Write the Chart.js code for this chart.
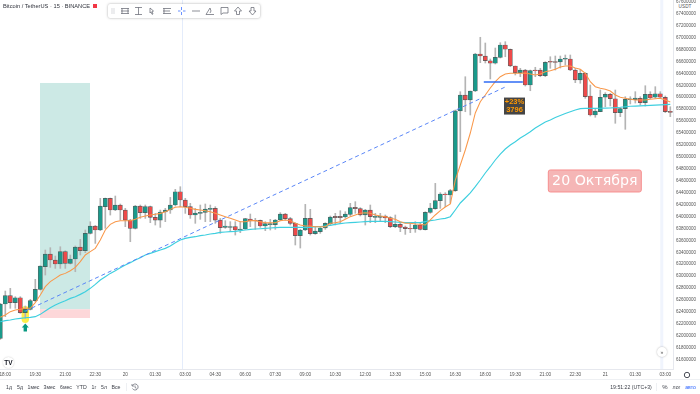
<!DOCTYPE html>
<html>
<head>
<meta charset="utf-8">
<script src="https://cdn.jsdelivr.net/npm/chart.js@4/dist/chart.umd.min.js"></script>
<style>
html, body { margin: 0; padding: 0; background: #fff; }
#page { position: relative; width: 700px; height: 394px; overflow: hidden; font-family: "Liberation Sans", Arial, sans-serif; color: #3c3f48; filter: blur(.25px); }
canvas { position: absolute; left: 0; top: 0; }
.txt { position: absolute; font-size: 5.2px; line-height: 7px; white-space: nowrap; transform: translateX(-50%); }
.rule { position: absolute; background: #e6e8ee; }
#toolbar { position: absolute; left: 108px; top: 4px; width: 152px; height: 14px; background: #fff; border-radius: 2px; box-shadow: 0 0 2.5px rgba(0,0,0,.35); }
.round { position: absolute; background: #fff; border-radius: 50%; box-shadow: 0 0 2px rgba(0,0,0,.3); text-align: center; }
</style>
</head>
<body>
<div id="page">
  <canvas id="chart" width="700" height="394"></canvas>

  <div class="txt" style="left:3px;top:3px;transform:none;font-size:5.7px;color:#30333c">Bitcoin / TetherUS · 15 · BINANCE</div>
  <div style="position:absolute;left:93px;top:4px;width:4px;height:4px;background:#f23645"></div>

  <div id="toolbar">
    <svg width="152" height="14" viewBox="0 0 152 14" fill="none" stroke="#5d606b" stroke-width=".7">
      <path d="M4 4v6M6 4v6" stroke="#c8cad0"/>
      <path d="M13 4.5h8M13 9.5h8M14 4.5v5M20 4.5v5M13 7h8"/>
      <path d="M27 3.5h7M27 10.5h7M30.5 3.5v7"/>
      <path d="M42 4l3.5 3-1.5.5 1 2.5-1 .3-1-2.4-1 1z"/>
      <path d="M55 4.5h8M55 9.5h8M55 7h7M56 4.5v5"/>
      <path d="M73.5 3v3M73.5 8v3M70 7h2.500M75 7h2.500" stroke="#2962ff"/>
      <path d="M84 7h8"/>
      <path d="M98 10.500l4-6.500 1 3-1 2M98 10.500h8"/>
      <path d="M113 3.500h7v5.500h-5l-2 1.500z"/>
      <path d="M130 3l3.500 4-2 0v3.500h-3v-3.500h-2z"/>
      <path d="M144.500 11l3.500-4h-2v-3.500h-3v3.500h-2z"/>
    </svg>
  </div>

  <div class="txt" style="left:685px;top:3px;font-size:4.7px;background:#fff;padding:0 1px;color:#555">USDT</div>

  <div class="round" style="left:3px;top:356.500px;width:11px;height:11px;box-shadow:0 0 1.5px rgba(0,0,0,.25);font:bold 6.5px/11px 'Liberation Sans';color:#131722">TV</div>
  <div class="round" style="left:657px;top:347px;width:10px;height:10px;font:5px/10px 'Liberation Sans';color:#555">»</div>

  <div class="rule" style="left:0;top:379px;width:700px;height:1px;background:#eef0f3"></div>
  <div class="rule" style="left:126px;top:383px;width:1px;height:8px;background:#eef0f3"></div>
  <div class="rule" style="left:656px;top:383px;width:1px;height:8px;background:#eef0f3"></div>

  <div class="txt" style="left:9px;top:383.500px">1д</div>
  <div class="txt" style="left:20px;top:383.500px">5д</div>
  <div class="txt" style="left:33.500px;top:383.500px">1мес</div>
  <div class="txt" style="left:49.500px;top:383.500px">3мес</div>
  <div class="txt" style="left:66px;top:383.500px">6мес</div>
  <div class="txt" style="left:81.500px;top:383.500px">YTD</div>
  <div class="txt" style="left:94px;top:383.500px">1г</div>
  <div class="txt" style="left:104px;top:383.500px">5л</div>
  <div class="txt" style="left:116px;top:383.500px">Все</div>
  <svg style="position:absolute;left:131px;top:383px" width="8" height="8" viewBox="0 0 8 8" fill="none" stroke="#5d606b" stroke-width=".7"><path d="M1.500 2.500a3 3 0 1 1 0 3M1 1v2h2M4 2.500v2l1.500 .8"/></svg>

  <div class="txt" style="left:631px;top:383.500px">19:51:22 (UTC+3)</div>
  <div class="txt" style="left:665px;top:383.500px;font-size:6px">%</div>
  <div class="txt" style="left:676.500px;top:383.500px">лог</div>
  <div class="txt" style="left:690.500px;top:383.500px;color:#2962ff">авто</div>
  <svg style="position:absolute;left:682.500px;top:370.500px" width="8" height="8" viewBox="0 0 8 8" fill="none" stroke="#4a4d57" stroke-width="1"><circle cx="4" cy="4" r="2.700"/></svg>
</div>

<script>
// candle index of each time axis label
const tickCandles = [1, 7, 13, 19, 25, 31, 37, 43, 49, 55, 61, 67, 73, 79, 85, 91, 97, 103, 109, 115, 121, 127, 133];
const tickLabels = ["18:00", "19:30", "21:00", "22:30", "20", "01:30", "03:00", "04:30", "06:00", "07:30", "09:00", "10:30",
    "12:00", "13:30", "15:00", "16:30", "18:00", "19:30", "21:00", "22:30", "21", "01:30", "03:00"];
const priceTicks = [61600,61800,62000,62200,62400,62600,62800,63000,63200,63400,63600,63800,64000,64200,64400,64600,
    64800,65000,65200,65400,65600,65800,66000,66200,66400,66600,66800,67000,67200,67400,67600];

// prices in thousands, the axis prints them x1000
const opens = [61958,62533,62673,62556,62639,62388,62444,62589,62779,63159,63371,63271,63204,63411,63215,63288,63489,63427,63718,63841,
    63774,64165,64305,64109,64193,64109,63941,63802,64176,64064,64165,63986,63941,64076,64109,64193,64416,64277,64165,64025,
    64053,64070,64120,64137,63941,63819,63819,63830,63774,63791,63959,63936,63936,63841,63864,63864,63942,64042,63964,63886,
    63679,63774,63970,63713,63746,63808,63880,64002,64002,63992,64037,64154,64132,64026,64109,63987,63987,64009,63981,63830,
    63869,63824,63802,63791,63858,63780,64070,64132,64266,64378,64361,64433,65771,66037,65954,66104,66725,66691,66612,66569,
    66669,66876,66804,66524,66411,66456,66205,66456,66456,66361,66602,66599,66591,66636,66641,66456,66289,66401,66021,65702,
    65757,65999,66049,65975,65741,65808,65959,65959,65982,65908,66049,65999,66059,65999,65764];
const highs = [62545,62751,62796,62656,62656,62500,62612,62947,63175,63439,63478,63338,63494,63427,63355,63506,63617,63774,63913,63850,
    64305,64310,64310,64344,64210,64137,63953,64187,64193,64193,64176,64053,64109,64137,64321,64456,64500,64305,64221,64137,
    64193,64210,64193,64165,63969,63931,63914,63914,63914,63970,64042,63970,63942,63914,63953,63953,64065,64054,63986,63897,
    63785,64204,64121,63830,63819,63897,64009,64054,64098,64081,64221,64249,64149,64121,64193,64054,64054,64026,63998,64026,
    63886,63841,63886,63914,63886,64081,64221,64556,64400,64400,64456,65786,66093,66344,66104,66737,67005,66909,66641,66825,
    66914,66931,66809,66524,66485,66468,66456,66502,66485,66596,66679,66691,66691,66708,66708,66485,66468,66411,66205,65814,
    66121,66076,66066,66121,65825,66009,66009,66093,66009,66193,66093,66177,66093,66021,65841];
const lows = [61941,62321,62461,62461,62377,62293,62433,62572,62768,63019,63148,63131,63131,63131,63204,63075,63355,63394,63707,63550,
    63763,63802,64025,64098,63941,63830,63578,63791,63969,63969,63897,63858,63818,63914,64053,64176,64165,64053,63969,63886,
    63953,63914,63914,63886,63718,63802,63746,63690,63729,63785,63830,63785,63819,63763,63774,63785,63931,63942,63858,63523,
    63472,63763,63690,63701,63718,63785,63858,63858,63886,63970,64009,64054,64009,63858,63897,63897,63914,63897,63813,63813,
    63746,63701,63729,63735,63774,63774,64054,64121,64137,64165,64221,64420,65087,65757,65702,66093,66579,66574,66306,66557,
    66658,66679,66512,66373,66344,66188,66109,66344,66344,66344,66485,66456,66490,66540,66445,66244,66234,65982,65685,65664,
    65757,65841,65853,65563,65674,65462,65887,65903,65870,65853,65975,65982,65982,65741,65674];
const closes = [62533,62673,62556,62639,62388,62444,62589,62779,63170,63371,63271,63204,63411,63215,63288,63489,63427,63718,63841,63774,
    64176,64305,64109,64193,64109,63941,63802,64176,64064,64165,63986,63941,64076,64109,64193,64416,64277,64165,64025,64059,
    64070,64126,64137,63941,63813,63841,63830,63774,63791,63964,63925,63925,63841,63880,63880,63942,64042,63964,63886,63679,
    63774,63970,63713,63757,63808,63886,63992,63981,63981,64042,64149,64132,64026,64109,63998,64003,64009,63975,63830,63869,
    63819,63796,63791,63858,63785,64070,64143,64266,64378,64366,64433,65771,66037,65954,66104,66725,66691,66612,66569,66669,
    66876,66804,66524,66411,66456,66205,66445,66445,66361,66586,66586,66582,66641,66653,66456,66289,66401,66009,65702,65769,
    65999,66049,65975,65741,65808,65965,65975,65987,65908,66049,65987,66059,65999,65757,65747];

const fastAverage = [62310,62349,62405,62433,62444,62461,62461,62556,62684,62824,62908,62964,63019,63047,63092,63148,63243,63355,63411,63466,
    63606,63774,63869,63914,63930,63930,63930,63953,63986,64009,64025,64037,64053,64081,64120,64154,64165,64154,64137,64120,
    64109,64098,64081,64053,64025,63998,63970,63942,63914,63914,63931,63931,63914,63897,63897,63897,63931,63942,63931,63886,
    63858,63841,63841,63830,63830,63830,63886,63897,63914,63953,63998,64026,64054,64065,64054,64026,64009,63998,63970,63953,
    63914,63886,63886,63875,63869,63858,63942,64026,64098,64160,64210,64612,64864,65115,65400,65736,65925,66037,66155,66260,
    66344,66389,66401,66401,66401,66406,66389,66373,66389,66428,66445,66468,66507,66524,66524,66490,66468,66401,66260,66177,
    66150,66133,66104,66037,65999,65982,65965,65954,65954,65954,65965,65975,65982,65954,65920];
const slowAverage = [62237,62254,62265,62282,62293,62304,62310,62321,62360,62416,62472,62517,62556,62589,62628,62656,62695,62740,62796,62863,
    62936,62991,63047,63092,63142,63187,63226,63271,63310,63355,63383,63411,63439,63466,63506,63561,63606,63634,63651,63662,
    63679,63690,63707,63718,63735,63741,63746,63752,63763,63774,63785,63791,63796,63802,63808,63813,63819,63819,63819,63819,
    63819,63819,63819,63830,63830,63841,63852,63869,63880,63891,63897,63903,63908,63914,63919,63919,63919,63919,63914,63908,
    63903,63897,63897,63897,63897,63914,63931,63942,63959,63970,63997,64110,64227,64311,64395,64500,64612,64730,64835,64948,
    65048,65132,65199,65255,65317,65367,65422,65484,65535,65585,65618,65660,65694,65727,65757,65786,65808,65814,65814,65814,
    65816,65818,65820,65825,65832,65841,65848,65852,65856,65860,65864,65868,65872,65877,65881];

// drawings on top of the price data
const trendLineX = [5, 101];
const trendLineY = [62416, 66172];
const levelLineX = [96.7, 104.5];
const levelLineY = [66255, 66255];
const longBoxX = [7.94, 17.94];
const longBoxY = [66239, 62445, 62299];   // target, entry, stop
const markCandle = 5;
const markPrice = 62358;
const arrowPrice = 62207;
const crossCandles = [36.44, 132.3];
const changeLabel = ["+23%", "3796"];
const changeAt = [102.84, 65852];
const dateLabel = "20 Октября";
const dateAt = [118.9, 64596];

const teal = "#1a9a8b";
const red = "#ee4a4a";
const candles = opens.map((o, i) => i);

function roundedBox(ctx, x, y, w, h, r) {
    ctx.beginPath();
    ctx.roundRect(x, y, w, h, r);
}

// the position box, highlighter and arrow go under the candles
const underlay = {
    id: "underlay",
    beforeDatasetsDraw(chart) {
        const ctx = chart.ctx, xs = chart.scales.x, ys = chart.scales.y;
        const left = xs.getPixelForValue(longBoxX[0]), right = xs.getPixelForValue(longBoxX[1]);
        const top = ys.getPixelForValue(longBoxY[0]), mid = ys.getPixelForValue(longBoxY[1]), low = ys.getPixelForValue(longBoxY[2]);
        ctx.save();
        crossCandles.forEach((c, i) => {
            let w = i === 0 ? 1 : 3;
            ctx.fillStyle = i === 0 ? "#e4ecfb" : "#f0f4fd";
            ctx.fillRect(xs.getPixelForValue(c) - w / 2, 0, w, chart.chartArea.bottom);
        });
        ctx.fillStyle = "#cce9e5";
        ctx.fillRect(left, top, right - left, mid - top);
        ctx.fillStyle = "#fdd7d9";
        ctx.fillRect(left, mid, right - left, low - mid);
        ctx.fillStyle = "#ffee4a";
        let mx = xs.getPixelForValue(markCandle), my = ys.getPixelForValue(markPrice);
        roundedBox(ctx, mx - 3.7, my - 8.5, 7.4, 17, 3.7);
        ctx.fill();
        ctx.fillStyle = "#089981";
        let ay = ys.getPixelForValue(arrowPrice);
        ctx.beginPath();
        ctx.moveTo(mx, ay);
        ctx.lineTo(mx + 3.5, ay + 4);
        ctx.lineTo(mx + 1.7, ay + 4);
        ctx.lineTo(mx + 1.7, ay + 8);
        ctx.lineTo(mx - 1.7, ay + 8);
        ctx.lineTo(mx - 1.7, ay + 4);
        ctx.lineTo(mx - 3.5, ay + 4);
        ctx.closePath();
        ctx.fill();
        ctx.restore();
    }
};

const labels = {
    id: "labels",
    afterDatasetsDraw(chart) {
        const ctx = chart.ctx, xs = chart.scales.x, ys = chart.scales.y;
        ctx.save();
        ctx.textAlign = "center";
        ctx.textBaseline = "middle";

        let cx = xs.getPixelForValue(changeAt[0]), cy = ys.getPixelForValue(changeAt[1]);
        ctx.fillStyle = "#454545";
        ctx.fillRect(cx - 10.5, cy - 8.5, 21, 17);
        ctx.fillStyle = "#ff9800";
        ctx.font = "bold 7.5px 'Liberation Sans'";
        ctx.fillText(changeLabel[0], cx, cy - 3.8);
        ctx.fillText(changeLabel[1], cx, cy + 4);

        let dx = xs.getPixelForValue(dateAt[0]), dy = ys.getPixelForValue(dateAt[1]);
        roundedBox(ctx, dx - 46.5, dy - 11, 93, 22, 2);
        ctx.fillStyle = "#f5b6b6";
        ctx.fill();
        ctx.strokeStyle = "#f78f8f";
        ctx.lineWidth = 1;
        ctx.stroke();
        ctx.fillStyle = "#fff";
        ctx.font = "14.2px 'DejaVu Sans'";
        ctx.fillText(dateLabel, dx, dy + 0.5);
        ctx.restore();
    }
};

let config = {
    type: "bar",
    data: {
        datasets: [
            {
                type: "line",
                data: candles.map(i => ({ x: i, y: fastAverage[i] })),
                borderColor: "#f9984a",
                borderWidth: 1.05,
                pointRadius: 0,
                order: 2
            },
            {
                type: "line",
                data: candles.map(i => ({ x: i, y: slowAverage[i] })),
                borderColor: "#3ecfdf",
                borderWidth: 1.15,
                pointRadius: 0,
                order: 2
            },
            {
                type: "line",
                data: trendLineX.map((x, i) => ({ x: x, y: trendLineY[i] })),
                borderColor: "#5a86f7",
                borderWidth: 1,
                borderDash: [4, 3],
                pointRadius: 0,
                order: 1
            },
            {
                type: "line",
                data: levelLineX.map((x, i) => ({ x: x, y: levelLineY[i] })),
                borderColor: "#2f6bf5",
                borderWidth: 1.4,
                pointRadius: 0,
                order: 1
            },
            {
                data: candles.map(i => ({ x: i, y: [opens[i], closes[i]] })),
                backgroundColor: candles.map(i => closes[i] >= opens[i] ? teal : red),
                borderColor: "rgba(45,60,60,.8)",
                borderWidth: 0.7,
                borderSkipped: false,
                barThickness: 4.2,
                grouped: false,
                order: 3
            },
            {
                data: candles.map(i => ({ x: i, y: [lows[i], highs[i]] })),
                backgroundColor: "#b4b4b4",
                barThickness: 1,
                grouped: false,
                order: 4
            }
        ]
    },
    options: {
        responsive: false,
        animation: false,
        layout: { padding: 0 },
        plugins: {
            legend: { display: false },
            tooltip: { enabled: false }
        },
        scales: {
            x: {
                type: "linear",
                offset: false,
                min: -0.06,
                max: 134.54,
                grid: { display: false, drawTicks: false },
                border: { color: "#e6e8ee" },
                afterBuildTicks: (scale) => {
                    scale.ticks = tickCandles.map(v => ({ value: v }));
                },
                afterFit: (scale) => {
                    scale.height = 25;
                    scale.paddingLeft = 0;
                    scale.paddingRight = 0;
                },
                ticks: {
                    autoSkip: false,
                    maxRotation: 0,
                    padding: 2.5,
                    color: "#555",
                    font: { family: "Liberation Sans", size: 4.7 },
                    callback: (value) => tickLabels[tickCandles.indexOf(value)]
                }
            },
            y: {
                position: "right",
                min: 61444,
                max: 67630,
                grid: { display: false, drawTicks: false },
                border: { color: "#e6e8ee" },
                afterBuildTicks: (scale) => {
                    scale.ticks = priceTicks.map(v => ({ value: v }));
                },
                afterFit: (scale) => {
                    scale.width = 27;
                    scale.paddingTop = 0;
                    scale.paddingBottom = 0;
                },
                ticks: {
                    autoSkip: false,
                    padding: 3,
                    color: "#555",
                    font: { family: "Liberation Sans", size: 4.5 },
                    callback: (value) => String(value * 1000)
                }
            }
        }
    },
    plugins: [underlay, labels]
};

new Chart(document.getElementById("chart"), config);
</script>
</body>
</html>
